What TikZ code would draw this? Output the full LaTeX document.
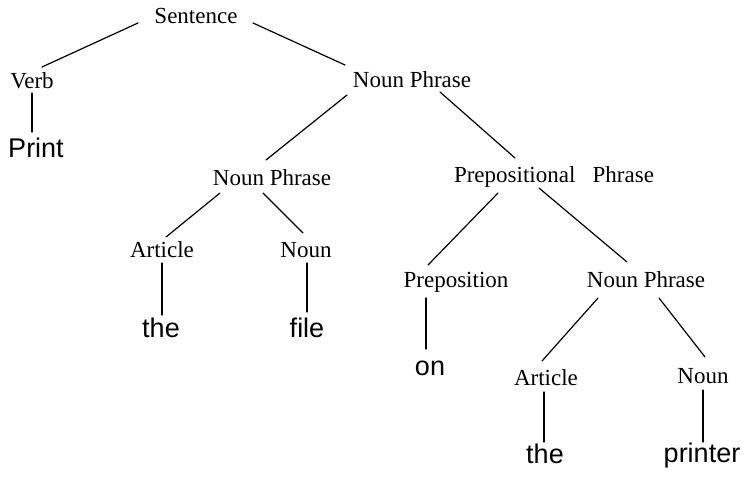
\documentclass[tikz,border=0pt]{standalone}
\usepackage{fontspec}
\newfontfamily\labfont{Liberation Serif}
\newfontfamily\leaffont{Liberation Sans}
\usetikzlibrary{calc}
\tikzset{
  lab/.style={inner sep=0pt, anchor=base, font=\labfont\fontsize{23}{27}\selectfont},
  leaf/.style={inner sep=0pt, anchor=base, font=\leaffont\fontsize{27}{32}\selectfont},
  edge/.style={line width=1.2pt, line cap=round}
}
\begin{document}
\begin{tikzpicture}[x=1pt,y=-1pt]
\useasboundingbox (0,0) rectangle (743,477);
\node[lab] (sent) at (196,23) {Sentence};
\node[lab] (verb) at (32,88) {Verb};
\node[leaf] (print) at (36,157) {Print};
\node[lab] (np1) at (412,87) {Noun Phrase};
\node[lab] (np2) at (272,185) {Noun Phrase};
\node[lab] (pp) at (554,182) {Prepositional\hspace{0.75em}Phrase};
\node[lab] (art1) at (162,257) {Article};
\node[lab] (noun1) at (306,257) {Noun};
\node[leaf] (the1) at (161,337) {the};
\node[leaf] (file) at (307,337) {file};
\node[lab] (prep) at (456,287) {Preposition};
\node[lab] (np3) at (646,287) {Noun Phrase};
\node[leaf] (on) at (430,375) {on};
\node[lab] (art2) at (546,385) {Article};
\node[lab] (noun2) at (703,383) {Noun};
\node[leaf] (the2) at (545,463) {the};
\node[leaf] (printer) at (702,462) {printer};
\draw[edge] ($(sent.base)+(-58,0)$) -- ($(verb.base)+(10,-21)$);
\draw[edge] ($(sent.base)+(57,0)$) -- ($(np1.base)+(-67,-22)$);
\draw[edge] ($(verb.base)+(0,5)$) -- ($(print.base)+(-4,-25)$);
\draw[edge] ($(np1.base)+(-65,8)$) -- ($(np2.base)+(-6,-25)$);
\draw[edge] ($(np1.base)+(28,5)$) -- ($(pp.base)+(-39,-24)$);
\draw[edge] ($(np2.base)+(-52,8)$) -- ($(art1.base)+(4,-20)$);
\draw[edge] ($(np2.base)+(-9,8)$) -- ($(noun1.base)+(-3,-24)$);
\draw[edge] ($(art1.base)+(0,6)$) -- ($(the1.base)+(1,-22)$);
\draw[edge] ($(noun1.base)+(1,6)$) -- ($(file.base)+(0,-25)$);
\draw[edge] ($(pp.base)+(-56,11)$) -- ($(prep.base)+(-28,-22)$);
\draw[edge] ($(pp.base)+(-15,6)$) -- ($(np3.base)+(-19,-25)$);
\draw[edge] ($(prep.base)+(-30,11)$) -- ($(on.base)+(-4,-26)$);
\draw[edge] ($(np3.base)+(-48,11)$) -- ($(art2.base)+(-4,-24)$);
\draw[edge] ($(np3.base)+(13,11)$) -- ($(noun2.base)+(2,-26)$);
\draw[edge] ($(art2.base)+(-2,7)$) -- ($(the2.base)+(-1,-21)$);
\draw[edge] ($(noun2.base)+(0,7)$) -- ($(printer.base)+(1,-20)$);
\end{tikzpicture}
\end{document}
